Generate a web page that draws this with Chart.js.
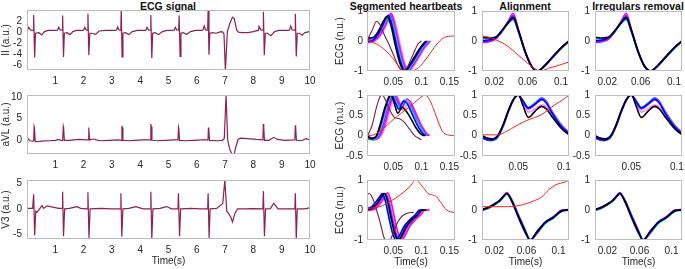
<!DOCTYPE html>
<html lang="en">
<head>
<meta charset="UTF-8">
<title>ECG heartbeat segmentation</title>
<script src="https://cdn.jsdelivr.net/npm/chart.js@4.4.1/dist/chart.umd.min.js"></script>
<style>
  body { margin: 0; background: #fff; }
  #fig { position: relative; width: 685px; height: 269px; overflow: hidden; font-family: "Liberation Sans", Arial, sans-serif; }
  #fig canvas { position: absolute; }
  .ttl { position: absolute; top: 0; font-weight: bold; font-size: 10.5px; line-height: 12px; color: #111; transform: translateX(-50%); white-space: nowrap; }
</style>
</head>
<body>
<div id="fig">
  <div class="ttl" style="left:168px">ECG signal</div>
  <div class="ttl" style="left:406px">Segmented heartbeats</div>
  <div class="ttl" style="left:525px">Alignment</div>
  <div class="ttl" style="left:638px">Irregulars removal</div>
</div>
<script>
// ---- raw ECG leads, [time (s), amplitude (a.u.)] ----
const ecgII = [
  [0.00,0.30],[0.06,0.85],[0.12,0.40],[0.20,0.30],
  [0.225,0.35],[0.235,3.1],[0.27,-4.6],[0.30,-0.2],[0.42,-0.1],[0.52,-0.5],[0.62,0.1],[0.75,0.3],[0.95,0.3],[1.08,0.35],[1.12,0.9],[1.17,0.4],[1.245,0.35],
  [1.259,3.0],[1.29,-4.5],[1.32,-0.2],[1.42,-0.1],[1.52,-0.45],[1.62,0.1],[1.75,0.3],[1.95,0.3],[2.0,0.35],[2.04,0.85],[2.09,0.4],[2.14,0.35],
  [2.153,3.3],[2.185,-4.2],[2.22,-0.2],[2.3,-0.2],[2.42,-0.4],[2.55,0.2],[2.8,0.3],[3.1,0.3],[3.17,0.4],[3.2,0.95],[3.25,0.4],[3.315,0.35],
  [3.329,4.1],[3.36,-4.5],[3.39,-0.2],[3.48,-0.1],[3.6,-0.45],[3.72,0.1],[3.9,0.3],[4.15,0.3],[4.2,0.35],[4.24,0.85],[4.29,0.4],[4.36,0.35],
  [4.376,3.1],[4.41,-4.7],[4.44,-0.2],[4.52,-0.1],[4.65,-0.45],[4.78,0.1],[4.95,0.3],[5.16,0.3],[5.2,0.35],[5.24,0.85],[5.29,0.4],[5.36,0.35],
  [5.376,3.0],[5.41,-4.4],[5.44,-0.2],[5.52,-0.1],[5.65,-0.4],[5.78,0.1],[5.95,0.3],[6.18,0.3],[6.22,0.4],[6.26,1.1],[6.31,0.4],[6.385,0.35],
  [6.4,4.1],[6.43,-4.1],[6.46,-0.2],[6.55,-0.1],[6.68,-0.2],[6.8,0.0],[6.9,0.1],[6.96,-0.3],
  [7.01,-6.9],[7.08,0.1],[7.17,1.6],[7.26,2.7],[7.32,2.5],[7.41,0.4],[7.47,0.0],[7.6,-0.1],[7.8,-0.1],[8.0,0.1],[8.18,0.35],[8.2,1.0],[8.27,0.4],[8.34,0.35],
  [8.353,3.7],[8.385,-4.2],[8.42,-0.2],[8.5,-0.2],[8.62,-0.65],[8.75,0.1],[8.9,0.3],[9.25,0.3],[9.28,0.4],[9.32,1.1],[9.37,0.4],[9.47,0.35],
  [9.482,3.3],[9.515,-4.4],[9.55,-0.2],[9.62,-0.2],[9.72,-0.55],[9.82,-0.1],[9.9,0.0],[10.0,0.15]
];
const ecgAVL = [
  [0.0,0.5],[0.1,-0.2],[0.2,-0.3],[0.235,-0.2],[0.253,3.0],[0.265,2.6],[0.29,-0.4],[0.45,-0.35],[0.6,-0.25],[0.8,-0.2],[1.0,-0.1],[1.1,0.1],[1.2,-0.1],[1.262,-0.1],
  [1.282,3.1],[1.294,2.7],[1.32,-0.1],[1.5,-0.1],[1.65,0.0],[1.85,0.1],[2.05,0.0],[2.16,0.0],
  [2.176,2.9],[2.188,2.5],[2.215,0.0],[2.35,0.2],[2.45,0.0],[2.6,-0.2],[2.9,-0.1],[3.2,0.0],[3.335,-0.1],
  [3.353,3.3],[3.365,2.9],[3.39,-0.1],[3.6,-0.2],[3.8,-0.1],[4.1,0.0],[4.36,0.0],
  [4.376,3.7],[4.39,3.1],[4.415,-0.1],[4.6,-0.2],[4.9,-0.1],[5.2,0.0],[5.335,0.0],
  [5.353,2.9],[5.365,2.5],[5.39,-0.1],[5.6,-0.2],[5.9,-0.1],[6.2,0.0],[6.395,0.0],
  [6.412,2.9],[6.424,2.4],[6.45,-0.1],[6.7,-0.2],[6.9,-0.1],[6.97,0.3],
  [7.035,10.5],[7.09,0.0],[7.17,-2.3],[7.26,-3.5],[7.32,-3.4],[7.38,-1.6],[7.46,0.15],[7.55,0.4],[7.8,0.3],[8.1,0.1],[8.335,0.0],
  [8.353,3.7],[8.365,3.0],[8.39,-0.1],[8.55,-0.1],[8.72,0.6],[8.85,0.1],[9.1,-0.1],[9.465,0.0],
  [9.482,3.4],[9.494,2.8],[9.52,-0.1],[9.7,-0.2],[9.85,0.3],[9.92,0.1],[10.0,0.1]
];
const ecgV3 = [
  [0.0,0.1],[0.2,0.1],[0.235,2.9],[0.27,-5.2],[0.31,-0.5],[0.35,-0.7],[0.53,0.65],[0.59,0.1],[0.71,0.6],[0.82,0.45],[1.12,0.1],[1.24,0.1],
  [1.259,3.4],[1.29,-5.4],[1.33,0.0],[1.5,0.1],[1.76,0.45],[1.9,0.1],[2.13,0.0],
  [2.153,3.3],[2.19,-5.75],[2.23,0.0],[2.6,0.1],[3.0,0.0],[3.3,0.0],
  [3.318,3.1],[3.35,-5.5],[3.39,0.0],[3.6,0.1],[3.85,0.45],[4.1,0.0],[4.36,0.0],
  [4.376,3.4],[4.41,-5.9],[4.45,0.0],[4.7,0.1],[4.94,0.45],[5.1,0.0],[5.335,0.0],
  [5.353,3.1],[5.39,-5.4],[5.43,0.0],[5.8,0.1],[6.1,0.0],[6.385,0.0],
  [6.4,3.1],[6.435,-5.75],[6.47,0.0],[6.7,0.1],[6.82,0.6],[6.92,1.1],
  [6.99,5.7],[7.06,-0.5],[7.12,-0.9],[7.2,-1.6],[7.26,-2.6],[7.35,-0.85],[7.44,0.0],[7.7,0.0],[8.0,0.05],[8.335,0.0],
  [8.353,3.5],[8.39,-5.4],[8.43,0.0],[8.6,0.05],[8.72,1.1],[8.87,0.0],[9.2,0.0],[9.465,0.0],
  [9.482,3.1],[9.515,-5.9],[9.55,0.0],[9.8,0.0],[9.9,0.1],[10.0,0.25]
];

// ---- segmented heartbeats, lead II ----
const seg1K = [[0.004,0.1],[0.014,0.12],[0.024,0.35],[0.032,0.65],[0.039,0.82],[0.046,0.5],[0.053,-0.1],[0.061,-0.7],[0.069,-1],[0.077,-0.85],[0.087,-0.55],[0.098,-0.22],[0.108,0]];
const seg1B = [[0.004,-0.02],[0.014,0.03],[0.025,0.3],[0.034,0.65],[0.041,0.86],[0.048,0.5],[0.055,-0.1],[0.063,-0.7],[0.071,-1],[0.079,-0.85],[0.089,-0.55],[0.1,-0.22],[0.11,0]];
const seg1C = [[0.004,0.0],[0.014,0.05],[0.026,0.3],[0.036,0.65],[0.043,0.84],[0.05,0.5],[0.057,-0.1],[0.065,-0.7],[0.073,-1],[0.081,-0.85],[0.091,-0.55],[0.102,-0.22],[0.112,0]];
const seg1V = [[0.004,0.05],[0.014,0.06],[0.027,0.3],[0.037,0.65],[0.044,0.88],[0.051,0.5],[0.058,-0.1],[0.066,-0.7],[0.074,-1],[0.082,-0.85],[0.092,-0.55],[0.103,-0.22],[0.113,0]];
const seg1M = [[0.004,-0.05],[0.014,-0.02],[0.028,0.25],[0.038,0.62],[0.046,0.92],[0.053,0.5],[0.06,-0.1],[0.068,-0.7],[0.076,-1],[0.084,-0.85],[0.094,-0.55],[0.105,-0.22],[0.115,0]];
const seg1P = [[0.004,0.02],[0.014,0.02],[0.03,0.25],[0.04,0.62],[0.048,0.88],[0.055,0.5],[0.062,-0.1],[0.07,-0.7],[0.078,-1],[0.086,-0.85],[0.096,-0.55],[0.107,-0.22],[0.117,0]];
const seg1Maroon = [[0.004,0.05],[0.012,0.35],[0.02,0.65],[0.026,0.55],[0.034,0.2],[0.042,-0.1],[0.05,-0.45],[0.058,-0.8],[0.066,-1],[0.074,-0.9],[0.084,-0.5],[0.094,-0.1],[0.1,0]];
const seg1Red = [[0.004,0.02],[0.02,-0.1],[0.035,-0.3],[0.05,-0.6],[0.06,-0.85],[0.07,-1],[0.08,-1],[0.09,-0.95],[0.1,-0.8],[0.114,-0.45],[0.1325,0],[0.144,0.14],[0.16,0.17]];

// ---- aligned heartbeats, lead II (shared time axis) ----
const al1T = [0.0053,0.012,0.021,0.029,0.037,0.0427,0.049,0.057,0.065,0.072,0.0805,0.0925,0.101,0.1096];
const al1K = [0.12,0.1,0.12,0.35,0.62,0.8,0.35,-0.35,-0.85,-1,-0.82,-0.45,-0.2,0];
const al1B = [0.0,0.02,0.1,0.32,0.62,0.75,0.32,-0.37,-0.86,-1,-0.83,-0.47,-0.22,-0.01];
const al1C = [0.03,0.04,0.1,0.3,0.6,0.72,0.3,-0.38,-0.87,-1,-0.84,-0.48,-0.23,-0.02];
const al1V = [-0.02,0.0,0.08,0.33,0.66,0.85,0.36,-0.34,-0.85,-1,-0.82,-0.46,-0.21,0];
const al1M = [-0.05,-0.03,0.05,0.3,0.68,0.92,0.38,-0.33,-0.84,-1,-0.81,-0.44,-0.2,0.01];
const al1P = [0.05,0.05,0.1,0.32,0.6,0.7,0.3,-0.36,-0.86,-1,-0.83,-0.46,-0.22,-0.01];
const al1Red = [[0.0053,0.17],[0.015,0.12],[0.025,0.0],[0.035,-0.15],[0.045,-0.38],[0.055,-0.62],[0.065,-0.85],[0.072,-0.98],[0.076,-1],[0.085,-0.91],[0.095,-0.83],[0.1096,-0.7]];

// ---- segmented heartbeats, lead aVL ----
const seg2K = [[0.004,-0.02],[0.01,-0.08],[0.018,-0.05],[0.026,0.25],[0.034,0.65],[0.042,0.95],[0.046,1],[0.052,0.78],[0.058,0.55],[0.066,0.7],[0.072,0.62],[0.08,0.45],[0.09,0.2],[0.1,0.03],[0.106,0]];
const seg2B = [[0.004,0.0],[0.011,-0.06],[0.019,-0.02],[0.028,0.3],[0.036,0.7],[0.043,0.97],[0.047,1],[0.054,0.8],[0.06,0.65],[0.068,0.85],[0.074,0.8],[0.082,0.58],[0.092,0.28],[0.102,0.06],[0.108,0]];
const seg2C = [[0.004,-0.05],[0.012,-0.1],[0.021,-0.03],[0.03,0.3],[0.038,0.7],[0.045,0.97],[0.049,1],[0.056,0.8],[0.062,0.68],[0.07,0.88],[0.076,0.82],[0.084,0.6],[0.094,0.3],[0.104,0.07],[0.11,0]];
const seg2V = [[0.004,-0.08],[0.014,-0.1],[0.023,-0.03],[0.032,0.28],[0.04,0.68],[0.047,0.96],[0.051,1],[0.058,0.8],[0.064,0.66],[0.072,0.86],[0.078,0.8],[0.086,0.58],[0.096,0.28],[0.106,0.06],[0.112,0]];
const seg2M = [[0.004,-0.05],[0.016,-0.1],[0.025,-0.03],[0.034,0.25],[0.042,0.65],[0.049,0.95],[0.053,1],[0.06,0.82],[0.066,0.7],[0.074,0.9],[0.08,0.84],[0.088,0.62],[0.098,0.3],[0.108,0.07],[0.114,0]];
const seg2P = [[0.004,-0.03],[0.018,-0.08],[0.027,-0.02],[0.036,0.25],[0.044,0.62],[0.051,0.94],[0.055,1],[0.062,0.8],[0.068,0.62],[0.076,0.78],[0.082,0.74],[0.09,0.55],[0.1,0.26],[0.11,0.05],[0.116,0]];
const seg2Maroon = [[0.004,0.0],[0.012,0.25],[0.02,0.7],[0.026,0.95],[0.03,1],[0.036,0.88],[0.044,0.62],[0.052,0.45],[0.06,0.42],[0.068,0.35],[0.078,0.18],[0.088,0.0],[0.1,-0.1]];
const seg2Red = [[0.004,0.0],[0.015,0.02],[0.025,0.1],[0.04,0.27],[0.05,0.4],[0.065,0.56],[0.08,0.72],[0.095,0.9],[0.103,0.98],[0.107,1],[0.113,0.92],[0.12,0.72],[0.128,0.42],[0.137,0.12],[0.147,0.02],[0.16,0.0]];

// ---- aligned heartbeats, lead aVL ----
const al2T = [0.0103,0.016,0.021,0.028,0.034,0.039,0.045,0.05,0.055,0.061,0.0683,0.0756,0.081,0.0865,0.0975,0.1055];
const al2K = [0.0,-0.06,-0.08,0.02,0.3,0.6,0.9,1,0.75,0.45,0.6,0.72,0.65,0.48,0.17,0.02];
const al2B = [-0.04,-0.1,-0.11,-0.01,0.28,0.6,0.9,1,0.86,0.68,0.78,0.9,0.8,0.58,0.22,0.05];
const al2C = [-0.05,-0.1,-0.12,-0.02,0.27,0.58,0.89,1,0.87,0.7,0.8,0.92,0.82,0.6,0.24,0.06];
const al2V = [-0.03,-0.09,-0.1,0.0,0.3,0.62,0.91,1,0.84,0.66,0.76,0.88,0.79,0.56,0.21,0.04];
const al2M = [-0.06,-0.11,-0.12,-0.02,0.26,0.57,0.88,1,0.86,0.67,0.8,0.93,0.84,0.62,0.26,0.08];
const al2P = [-0.02,-0.07,-0.09,0.01,0.3,0.61,0.9,1,0.82,0.58,0.66,0.75,0.7,0.52,0.19,0.03];
const al2Red = [[0.0103,0.02],[0.028,0.02],[0.035,0.08],[0.05,0.27],[0.06,0.38],[0.0756,0.52],[0.09,0.76],[0.1,0.9],[0.1055,1]];

// ---- segmented heartbeats, lead V3 ----
const seg3B = [[0.004,0.05],[0.012,0.12],[0.02,0.3],[0.026,0.45],[0.03,0.55],[0.035,0.35],[0.042,-0.25],[0.049,-0.8],[0.055,-1],[0.061,-0.85],[0.069,-0.55],[0.078,-0.35],[0.088,-0.18],[0.097,0],[0.104,0]];
const seg3C = [[0.004,0.03],[0.013,0.1],[0.022,0.3],[0.028,0.47],[0.032,0.56],[0.037,0.35],[0.044,-0.25],[0.051,-0.8],[0.057,-1],[0.063,-0.85],[0.071,-0.55],[0.08,-0.35],[0.09,-0.18],[0.099,0],[0.106,0]];
const seg3K = [[0.004,0.02],[0.014,0.08],[0.024,0.3],[0.03,0.48],[0.034,0.55],[0.039,0.35],[0.046,-0.25],[0.053,-0.8],[0.059,-1],[0.065,-0.85],[0.073,-0.55],[0.082,-0.35],[0.092,-0.18],[0.101,0],[0.108,0]];
const seg3V = [[0.004,0.0],[0.015,0.06],[0.026,0.3],[0.032,0.47],[0.036,0.54],[0.041,0.35],[0.048,-0.25],[0.055,-0.8],[0.061,-1],[0.067,-0.85],[0.075,-0.55],[0.084,-0.35],[0.094,-0.18],[0.103,0],[0.11,0]];
const seg3P = [[0.004,0.0],[0.016,0.05],[0.027,0.28],[0.033,0.45],[0.037,0.53],[0.042,0.35],[0.049,-0.25],[0.056,-0.8],[0.062,-1],[0.068,-0.85],[0.076,-0.55],[0.085,-0.35],[0.095,-0.18],[0.104,0],[0.111,0]];
const seg3M = [[0.004,-0.02],[0.018,0.04],[0.03,0.3],[0.036,0.48],[0.04,0.57],[0.045,0.35],[0.052,-0.25],[0.059,-0.8],[0.065,-1],[0.071,-0.85],[0.079,-0.55],[0.088,-0.35],[0.098,-0.18],[0.107,0],[0.115,0]];
const seg3Maroon = [[0.004,0.52],[0.007,0.55],[0.014,0.35],[0.02,0.0],[0.027,-0.45],[0.033,-0.9],[0.036,-1],[0.044,-1],[0.05,-0.75],[0.058,-0.4],[0.066,-0.2],[0.076,-0.1],[0.086,-0.08]];
const seg3Red = [[0.004,0.05],[0.026,0.11],[0.044,0.28],[0.062,0.5],[0.0795,0.78],[0.09,1],[0.1,0.83],[0.112,0.55],[0.12,0.5],[0.127,0.44],[0.136,0.22],[0.145,0.0],[0.16,-0.09]];

// ---- aligned heartbeats, lead V3 ----
const al3T = [0.0046,0.013,0.0209,0.0271,0.0325,0.0355,0.0418,0.05,0.0584,0.0646,0.073,0.0834,0.0937,0.1043,0.113];
const al3K = [0.0,0.08,0.2,0.32,0.48,0.55,0.3,-0.2,-0.7,-1,-0.75,-0.42,-0.25,-0.02,0.0];
const al3B = [0.02,0.1,0.22,0.33,0.5,0.56,0.28,-0.25,-0.75,-1,-0.72,-0.4,-0.24,-0.03,0.0];
const al3C = [0.0,0.07,0.18,0.3,0.46,0.53,0.3,-0.18,-0.68,-0.98,-0.78,-0.45,-0.27,-0.04,-0.01];
const al3V = [-0.01,0.06,0.19,0.31,0.47,0.54,0.32,-0.2,-0.72,-1,-0.74,-0.41,-0.23,-0.01,0.0];
const al3M = [0.0,0.09,0.21,0.34,0.5,0.58,0.34,-0.15,-0.65,-1,-0.8,-0.43,-0.22,0.0,0.02];
const al3P = [0.01,0.08,0.2,0.31,0.48,0.56,0.3,-0.22,-0.7,-1,-0.76,-0.42,-0.26,-0.02,0.0];
const al3Red = [[0.0046,0.11],[0.0376,0.11],[0.0543,0.17],[0.0668,0.28],[0.0793,0.44],[0.0876,0.67],[0.096,0.83],[0.1085,0.94],[0.113,1]];

// ---- tick values ----
const ticksTime = [1, 2, 3, 4, 5, 6, 7, 8, 9, 10];
const ticksII = [-6, -4, -2, 0, 2];
const ticksAVL = [0, 5, 10];
const ticksV3 = [-5, 0, 5];
const ticksSegX = [0.05, 0.1, 0.15];
const ticksAlX = [0.02, 0.06, 0.1];
const ticksAl2X = [0.05, 0.1];
const ticksNorm = [-1, 0, 1];
const ticksNorm2 = [-0.5, 0, 0.5, 1];

// colours
const cK = '#000000', cB = '#0000ff', cC = '#00d4ff', cV = '#8a2be2', cM = '#ff00ff', cP = '#ff80ff';
const cMaroon = '#7d1b45', cRed = '#ff2020', cEcg = '#8e2152';

Chart.defaults.font.family = '"Liberation Sans", Arial, sans-serif';
Chart.defaults.font.size = 10;
Chart.defaults.color = '#262626';

const figure = document.getElementById('fig');
const zip = (t, v) => t.map((x, i) => [x, v[i]]);

// light grey box round each axes, like MATLAB's "box on"
const frameBox = {
  id: 'frameBox',
  afterDraw(chart) {
    const a = chart.chartArea, ctx = chart.ctx;
    ctx.save();
    ctx.strokeStyle = '#bdbdbd';
    ctx.lineWidth = 1;
    ctx.strokeRect(Math.round(a.left) + 0.5, Math.round(a.top) + 0.5,
      Math.round(a.right - a.left) - 1, Math.round(a.bottom - a.top) - 1);
    ctx.restore();
  }
};

// note: Chart.js paints dataset 0 last, so the first line listed ends up on top
function addPlot(p) {
  const padTop = 12, padRight = 16;
  const canvas = document.createElement('canvas');
  canvas.width = p.yW + (p.R - p.L) + padRight;
  canvas.height = padTop + (p.B - p.T) + p.xH;
  canvas.style.left = (p.L - p.yW) + 'px';
  canvas.style.top = (p.T - padTop) + 'px';
  figure.appendChild(canvas);

  const datasets = p.lines.map(l => ({
    data: l[0].map(q => ({ x: q[0], y: q[1] })),
    borderColor: l[1],
    borderWidth: l[2] || (p.smooth ? 1.6 : 1.2),
    pointRadius: 0,
    cubicInterpolationMode: p.smooth ? 'monotone' : 'default',
    tension: 0,
    fill: false
  }));

  return new Chart(canvas, {
    type: 'line',
    data: { datasets },
    options: {
      responsive: false,
      animation: false,
      events: [],
      layout: { padding: { top: padTop, right: padRight, bottom: 0, left: 0 } },
      plugins: { legend: { display: false }, tooltip: { enabled: false } },
      scales: {
        x: {
          type: 'linear', min: p.xMin, max: p.xMax,
          grid: { display: false, drawTicks: false },
          border: { display: false },
          afterBuildTicks: s => { s.ticks = p.xTicks.map(v => ({ value: v })); },
          afterFit: s => { s.height = p.xH; },
          ticks: { padding: 5, maxRotation: 0, autoSkip: false, callback: v => String(v) },
          title: { display: !!p.xTitle, text: p.xTitle || '', padding: 0 }
        },
        y: {
          type: 'linear', min: p.yMin, max: p.yMax,
          grid: { display: false, drawTicks: false },
          border: { display: false },
          afterBuildTicks: s => { s.ticks = p.yTicks.map(v => ({ value: v })); },
          afterFit: s => { s.width = p.yW; },
          ticks: { padding: p.yPad || 5, autoSkip: false, callback: v => String(v) },
          title: { display: !!p.yTitle, text: p.yTitle || '', padding: 0 }
        }
      }
    },
    plugins: [frameBox]
  });
}

// ---- left column: raw leads ----
addPlot({ L: 27, T: 10, R: 310, B: 70, yW: 27, xH: 16, xMin: 0, xMax: 10, yMin: -6.85, yMax: 4,
  xTicks: ticksTime, yTicks: ticksII, yTitle: 'II (a.u.)', lines: [[ecgII, cEcg]] });
addPlot({ L: 27, T: 95, R: 310, B: 154, yW: 27, xH: 16, xMin: 0, xMax: 10, yMin: -3.3, yMax: 10.5,
  xTicks: ticksTime, yTicks: ticksAVL, yTitle: 'aVL (a.u.)', lines: [[ecgAVL, cEcg]] });
addPlot({ L: 27, T: 180, R: 310, B: 239, yW: 27, xH: 28, xMin: 0, xMax: 10, yMin: -5.95, yMax: 5.7,
  xTicks: ticksTime, yTicks: ticksV3, yTitle: 'V3 (a.u.)', xTitle: 'Time(s)', lines: [[ecgV3, cEcg]] });

// ---- segmented heartbeats ----
addPlot({ L: 367, T: 11, R: 455, B: 71, yW: 33, xH: 16, xMin: 0.003, xMax: 0.16, yMin: -1, yMax: 1, yPad: 4, smooth: true,
  xTicks: ticksSegX, yTicks: ticksNorm, yTitle: 'ECG (n.u.)',
  lines: [[seg1Red, cRed, 1], [seg1Maroon, cMaroon, 1.1], [seg1K, cK], [seg1B, cB], [seg1C, cC], [seg1V, cV], [seg1M, cM], [seg1P, cP]] });
addPlot({ L: 367, T: 95, R: 455, B: 156, yW: 33, xH: 16, xMin: 0.003, xMax: 0.16, yMin: -0.5, yMax: 1, yPad: 4, smooth: true,
  xTicks: ticksSegX, yTicks: ticksNorm2, yTitle: 'ECG (n.u.)',
  lines: [[seg2Red, cRed, 1], [seg2Maroon, cMaroon, 1.1], [seg2K, cK], [seg2B, cB], [seg2C, cC], [seg2V, cV], [seg2M, cM], [seg2P, cP]] });
addPlot({ L: 367, T: 180, R: 455, B: 240, yW: 33, xH: 28, xMin: 0.003, xMax: 0.16, yMin: -1, yMax: 1, yPad: 4, smooth: true,
  xTicks: ticksSegX, yTicks: ticksNorm, yTitle: 'ECG (n.u.)', xTitle: 'Time(s)',
  lines: [[seg3Red, cRed, 1], [seg3Maroon, cMaroon, 1.1], [seg3K, cK], [seg3B, cB], [seg3C, cC], [seg3V, cV], [seg3M, cM], [seg3P, cP]] });

// ---- alignment and irregulars removal ----
const normals1 = [[zip(al1T, al1K), cK], [zip(al1T, al1B), cB], [zip(al1T, al1C), cC], [zip(al1T, al1V), cV], [zip(al1T, al1M), cM], [zip(al1T, al1P), cP]];
const normals2 = [[zip(al2T, al2K), cK], [zip(al2T, al2B), cB], [zip(al2T, al2C), cC], [zip(al2T, al2V), cV], [zip(al2T, al2M), cM], [zip(al2T, al2P), cP]];
const normals3 = [[zip(al3T, al3K), cK], [zip(al3T, al3B), cB], [zip(al3T, al3C), cC], [zip(al3T, al3V), cV], [zip(al3T, al3M), cM], [zip(al3T, al3P), cP]];

[[482, 569, true], [595, 682, false]].forEach(([L, R, withOutlier]) => {
  addPlot({ L, T: 11, R, B: 71, yW: 22, xH: 16, xMin: 0.0053, xMax: 0.1096, yMin: -1, yMax: 1, smooth: true,
    xTicks: ticksAlX, yTicks: ticksNorm, lines: withOutlier ? [[al1Red, cRed, 1]].concat(normals1) : normals1 });
  addPlot({ L, T: 95, R, B: 156, yW: 22, xH: 16, xMin: 0.0103, xMax: 0.1055, yMin: -0.5, yMax: 1, smooth: true,
    xTicks: ticksAl2X, yTicks: ticksNorm2, lines: withOutlier ? [[al2Red, cRed, 1]].concat(normals2) : normals2 });
  addPlot({ L, T: 180, R, B: 240, yW: 22, xH: 28, xMin: 0.0046, xMax: 0.113, yMin: -1, yMax: 1, smooth: true,
    xTicks: ticksAlX, yTicks: ticksNorm, xTitle: 'Time(s)', lines: withOutlier ? [[al3Red, cRed, 1]].concat(normals3) : normals3 });
});
</script>
</body>
</html>
